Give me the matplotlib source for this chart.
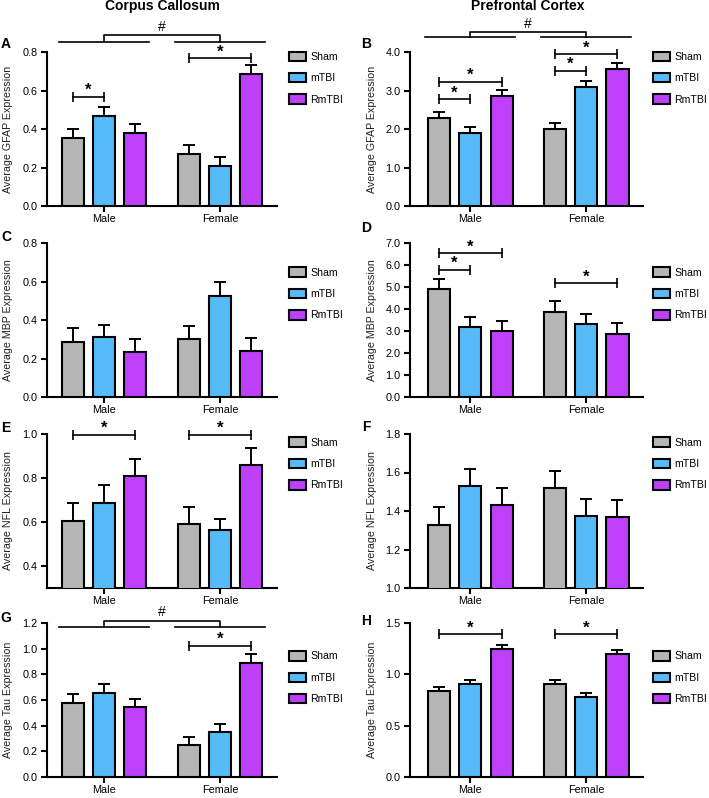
import numpy as np
import matplotlib
matplotlib.use("Agg")
from matplotlib import pyplot as plt

plt.rcParams['font.family'] = ['Liberation Sans', 'DejaVu Sans']

groups = ["Male", "Female"]
conditions = ["Sham", "mTBI", "RmTBI"]
colors = ["#b5b5b5", "#55bbf9", "#bf40fb"]

# means [Male, Female] x [Sham, mTBI, RmTBI], upper error only
gfap_cc = [[0.353, 0.467, 0.379], [0.270, 0.208, 0.686]]
gfap_cc_err = [[0.047, 0.048, 0.047], [0.047, 0.047, 0.046]]
gfap_pfc = [[2.29, 1.90, 2.86], [2.00, 3.09, 3.56]]
gfap_pfc_err = [[0.15, 0.15, 0.15], [0.16, 0.16, 0.15]]
mbp_cc = [[0.287, 0.310, 0.234], [0.300, 0.526, 0.239]]
mbp_cc_err = [[0.070, 0.066, 0.069], [0.067, 0.071, 0.067]]
mbp_pfc = [[4.90, 3.16, 2.99], [3.86, 3.31, 2.87]]
mbp_pfc_err = [[0.47, 0.47, 0.48], [0.50, 0.48, 0.49]]
nfl_cc = [[0.606, 0.687, 0.807], [0.591, 0.564, 0.857]]
nfl_cc_err = [[0.080, 0.079, 0.079], [0.079, 0.049, 0.079]]
nfl_pfc = [[1.329, 1.530, 1.433], [1.520, 1.374, 1.369]]
nfl_pfc_err = [[0.090, 0.087, 0.088], [0.090, 0.088, 0.090]]
tau_cc = [[0.579, 0.656, 0.542], [0.247, 0.347, 0.892]]
tau_cc_err = [[0.064, 0.065, 0.068], [0.067, 0.068, 0.065]]
tau_pfc = [[0.842, 0.907, 1.243], [0.904, 0.781, 1.194]]
tau_pfc_err = [[0.039, 0.038, 0.038], [0.038, 0.039, 0.039]]

# significance: (group, bar_i, bar_j, y)
sig_a = [(0, 0, 1, 0.568), (1, 0, 2, 0.767)]
sig_b = [(0, 0, 1, 2.77), (0, 0, 2, 3.23), (1, 0, 1, 3.51), (1, 0, 2, 3.95)]
sig_d = [(0, 0, 1, 5.78), (0, 0, 2, 6.54), (1, 0, 2, 5.18)]
sig_e = [(0, 0, 2, 0.997), (1, 0, 2, 0.997)]
sig_g = [(1, 0, 2, 1.024)]
sig_h = [(0, 0, 2, 1.394), (1, 0, 2, 1.394)]
# sex effect (#): (line y, bracket y)
hash_a = (0.853, 0.888)
hash_b = (4.38, 4.51)
hash_g = (1.172, 1.219)

panels = [
    ("A", gfap_cc, gfap_cc_err, "Average GFAP Expression", (0, 0.8), np.arange(0, 0.81, 0.2), sig_a, hash_a),
    ("B", gfap_pfc, gfap_pfc_err, "Average GFAP Expression", (0, 4.0), np.arange(0, 4.01, 1.0), sig_b, hash_b),
    ("C", mbp_cc, mbp_cc_err, "Average MBP Expression", (0, 0.8), np.arange(0, 0.81, 0.2), [], None),
    ("D", mbp_pfc, mbp_pfc_err, "Average MBP Expression", (0, 7.0), np.arange(0, 7.01, 1.0), sig_d, None),
    ("E", nfl_cc, nfl_cc_err, "Average NFL Expression", (0.3, 1.0), np.arange(0.4, 1.01, 0.2), sig_e, None),
    ("F", nfl_pfc, nfl_pfc_err, "Average NFL Expression", (1.0, 1.8), np.arange(1.0, 1.81, 0.2), [], None),
    ("G", tau_cc, tau_cc_err, "Average Tau Expression", (0, 1.2), np.arange(0, 1.21, 0.2), sig_g, hash_g),
    ("H", tau_pfc, tau_pfc_err, "Average Tau Expression", (0, 1.5), np.arange(0, 1.51, 0.5), sig_h, None),
]

W, H = 709, 798
fig = plt.figure(figsize=(W / 100, H / 100), dpi=100)

col_x = [(47, 230), (410, 233)]
row_y = [(52, 206), (243, 397), (434, 588), (623, 777)]
leg_x = [1.033, 1.024]
leg_y = [1.03, 0.87, 1.006, 0.845]
letter_y = [(44, 44), (237, 228), (428, 427), (618, 621)]

off = 0.27
bw = 0.19
x = np.arange(len(groups))

for k, (letter, vals, errs, ylabel, ylim, yticks, sigs, hsh) in enumerate(panels):
    r, c = divmod(k, 2)
    left, width = col_x[c]
    top, bottom = row_y[r]
    ax = fig.add_axes([left / W, 1 - bottom / H, width / W, (bottom - top) / H])
    vals = np.array(vals)
    errs = np.array(errs)
    for j, cond in enumerate(conditions):
        xs = x + (j - 1) * off
        ax.bar(xs, vals[:, j], width=bw, color=colors[j], edgecolor="black",
               linewidth=1.5, label=cond, zorder=3)
        ax.errorbar(xs, vals[:, j], yerr=[np.zeros(2), errs[:, j]], fmt="none",
                    ecolor="black", elinewidth=1.4, capsize=4, capthick=1.4, zorder=2)
    ax.set_ylim(*ylim)
    ax.set_yticks(yticks)
    ax.set_yticklabels([f"{t:.1f}" for t in yticks])
    ax.set_xticks(x)
    ax.set_xticklabels(groups)
    if c == 0:
        ax.set_xlim(-0.49, 1.49)
    else:
        ax.set_xlim(-0.52, 1.49)
    for s in ["top", "right"]:
        ax.spines[s].set_visible(False)
    for s in ["left", "bottom"]:
        ax.spines[s].set_linewidth(1.5)
    ax.tick_params(axis="both", direction="out", length=4, width=1.5, labelsize=7.8, pad=3)
    ax.tick_params(axis="x", pad=2)
    ax.set_ylabel(ylabel, fontsize=7.7, color="#222222")
    ax.yaxis.set_label_coords(-0.148 if c == 0 else -0.142, 0.5)

    for g, i, j2, yy in sigs:
        x1 = x[g] + (i - 1) * off
        x2 = x[g] + (j2 - 1) * off
        ax.plot([x1, x2], [yy, yy], color="black", lw=1.2, marker="|", ms=7, mew=1.2,
                clip_on=False, zorder=4)
        ax.annotate("*", ((x1 + x2) / 2, yy), xytext=(0, -1), textcoords="offset points",
                    ha="center", va="bottom", fontsize=12, fontweight="bold",
                    annotation_clip=False)
    if hsh is not None:
        ly, by = hsh
        for g in range(2):
            ax.plot([x[g] - 0.39, x[g] + 0.39], [ly, ly], color="black", lw=1.2, clip_on=False)
        ax.plot([x[0], x[0], x[1], x[1]], [ly, by, by, ly], color="black", lw=1.2, clip_on=False)
        ax.annotate("#", ((x[0] + x[1]) / 2, by), xytext=(0, 1), textcoords="offset points",
                    ha="center", va="bottom", fontsize=10, annotation_clip=False)

    ax.legend(loc="upper left", bbox_to_anchor=(leg_x[c], leg_y[r]), frameon=False,
              fontsize=7.6, handlelength=1.6, handleheight=1.0, handletextpad=0.45,
              labelspacing=1.05, borderaxespad=0)
    fig.text((6 if c == 0 else 366) / W, 1 - letter_y[r][c] / H, letter,
             fontsize=10, fontweight="bold", ha="center", va="center")

fig.text(162 / W, 1 - 6 / H, "Corpus Callosum", fontsize=10, fontweight="bold", ha="center", va="center")
fig.text(528 / W, 1 - 6 / H, "Prefrontal Cortex", fontsize=10, fontweight="bold", ha="center", va="center")

fig.savefig("out.png", dpi=100)
